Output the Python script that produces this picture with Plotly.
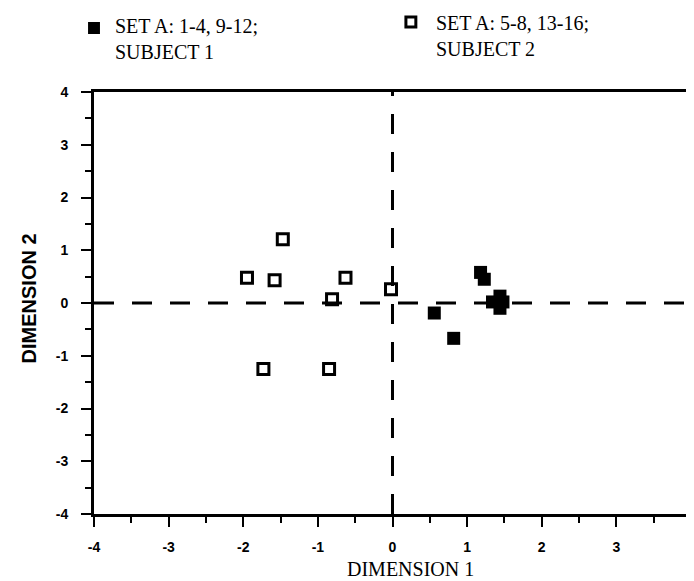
import plotly.graph_objects as go

# ---- data ----
subj1_x = [1.18, 1.23, 0.56, 0.82, 1.34, 1.48, 1.44, 1.44]
subj1_y = [0.58, 0.45, -0.19, -0.67, 0.02, 0.02, 0.13, -0.10]
subj2_x = [-1.47, -1.95, -1.58, -0.63, -0.81, -0.02, -1.73, -0.85]
subj2_y = [1.21, 0.48, 0.43, 0.48, 0.07, 0.26, -1.25, -1.25]
tick_vals = [-4, -3, -2, -1, 0, 1, 2, 3, 4]
tick_text = ["-4", "-3", "-2", "-1", "0", "1", "2", "3", "4"]
legend1 = ["SET A: 1-4, 9-12;", "SUBJECT 1"]
legend2 = ["SET A: 5-8, 13-16;", "SUBJECT 2"]
xtitle = "DIMENSION 1"
ytitle = "DIMENSION 2"

W, H = 694, 581
L, R, T, B = 86, 7, 84, 75
PW, PH = W - L - R, H - T - B


def px(x):
    return (x - L) / PW


def py(y):
    return (H - B - y) / PH


fig = go.Figure()
fig.add_trace(go.Scatter(
    x=subj1_x, y=subj1_y, mode="markers", name="Subject 1",
    marker=dict(symbol="square", size=13, color="black",
                line=dict(width=0)),
))
fig.add_trace(go.Scatter(
    x=subj2_x, y=subj2_y, mode="markers", name="Subject 2",
    marker=dict(symbol="square-open", size=11, color="black",
                line=dict(width=3, color="black")),
))

# zero reference lines
fig.add_shape(type="line", xref="x", yref="paper", x0=0, x1=0, y0=0, y1=1,
              line=dict(color="black", width=3, dash="20px,18px"), layer="below")
fig.add_shape(type="line", xref="paper", yref="y", x0=0, x1=1, y0=0, y1=0,
              line=dict(color="black", width=3, dash="20px,18px"), layer="below")

# legend swatches
s = 6
fig.add_shape(type="rect", xref="paper", yref="paper",
              x0=px(86 - s), x1=px(86 + s), y0=py(20 + s), y1=py(20 - s),
              fillcolor="black", line=dict(width=0))
s2 = 5
fig.add_shape(type="rect", xref="paper", yref="paper",
              x0=px(405 - s2), x1=px(405 + s2), y0=py(14 + s2), y1=py(14 - s2),
              fillcolor="rgba(0,0,0,0)", line=dict(width=3, color="black"))

serif = dict(family="Liberation Serif", size=20, color="black")
for lines, xx, ytop in [(legend1, 105, 5), (legend2, 428, 2)]:
    fig.add_annotation(text="<br>".join(lines), xref="paper", yref="paper",
                       x=px(xx), y=py(ytop), xanchor="left", yanchor="top",
                       align="left", showarrow=False, font=serif)

fig.add_annotation(text=xtitle, xref="paper", yref="paper", x=px(405), y=py(561),
                   xanchor="center", yanchor="middle", showarrow=False,
                   font=dict(family="Liberation Serif", size=20, color="black"))
fig.add_annotation(text=ytitle, xref="paper", yref="paper", x=px(21), y=py(290),
                   xanchor="center", yanchor="middle", showarrow=False, textangle=-90,
                   font=dict(family="Liberation Sans", size=20, color="black",
                             weight="bold"))

axis_common = dict(
    range=[-4, 4], tickvals=tick_vals, ticktext=tick_text,
    showgrid=False, zeroline=False, showline=True, linecolor="black", linewidth=3,
    mirror=True, ticks="outside", ticklen=10, tickwidth=2, tickcolor="black",
    minor=dict(dtick=0.5, ticks="outside", ticklen=6, tickwidth=2, tickcolor="black"),
    tickfont=dict(family="Liberation Sans", size=14, color="black", weight="bold"),
    ticklabeloverflow="allow", fixedrange=True,
)
fig.update_xaxes(**axis_common, ticklabelstandoff=8)
fig.update_yaxes(**axis_common, ticklabelstandoff=10)

fig.update_layout(
    width=W, height=H, margin=dict(l=L, r=R, t=T, b=B),
    paper_bgcolor="white", plot_bgcolor="white", showlegend=False,
)
fig.write_html("out.html")
